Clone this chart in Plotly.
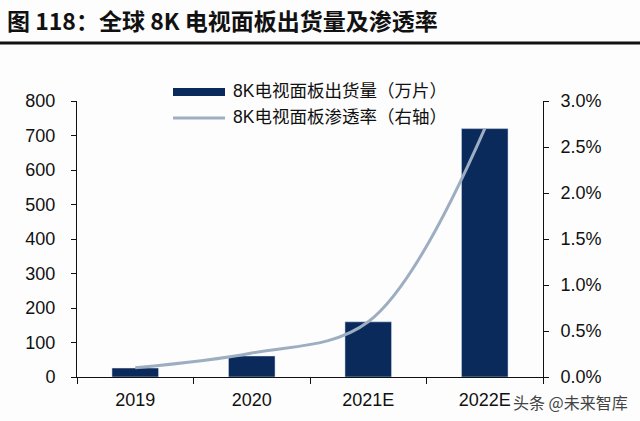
import plotly.graph_objects as go

categories = ["2019", "2020", "2021E", "2022E"]
shipments = [26, 61, 160, 720]          # 万片
penetration = [0.001, 0.0026, 0.006, 0.027]  # 渗透率

W, H = 640, 421
L, R, T, B = 77, 543, 101, 377
pw, ph = R - L, B - T

def px(x):
    return (x - L) / pw

def py(y):
    return (B - y) / ph

bar_color = "#0b2a5c"
line_color = "#9eaec2"
cjk = "Liberation Sans, Noto Sans CJK SC, sans-serif"

fig = go.Figure()
fig.add_trace(go.Bar(x=categories, y=shipments, marker_color=bar_color,
                     width=0.4, name="8K电视面板出货量（万片）", showlegend=False))
fig.add_trace(go.Scatter(x=categories, y=penetration, yaxis="y2", mode="lines",
                         line=dict(color=line_color, width=3, shape="spline", smoothing=1.0),
                         name="8K电视面板渗透率（右轴）", showlegend=False))

fig.update_layout(
    width=W, height=H,
    margin=dict(l=L, r=W - R, t=T, b=H - B),
    paper_bgcolor="#fdfdfd", plot_bgcolor="#fdfdfd",
    font=dict(family=cjk, size=18, color="#111"),
    xaxis=dict(type="category", showline=True, linecolor="#111", linewidth=1,
               ticks="outside", tickson="boundaries", ticklen=6, tickcolor="#111",
               tickfont=dict(size=18), showgrid=False, zeroline=False,
               ticklabelstandoff=6),
    yaxis=dict(range=[0, 800], dtick=100, showline=True, linecolor="#111", linewidth=1,
               ticks="outside", ticklen=5, tickcolor="#111", showgrid=False,
               zeroline=False, tickfont=dict(size=18), ticklabelstandoff=12),
    yaxis2=dict(range=[0, 0.03], dtick=0.005, tickformat=".1%", overlaying="y",
                side="right", showline=True, linecolor="#111", linewidth=1,
                ticks="outside", ticklen=5, tickcolor="#111", showgrid=False,
                zeroline=False, tickfont=dict(size=18), ticklabelstandoff=8),
)

# Title
fig.add_annotation(text="<b>图 118：全球 8K 电视面板出货量及渗透率</b>",
                   xref="paper", yref="paper", x=px(5), y=py(20),
                   xanchor="left", yanchor="middle", showarrow=False,
                   font=dict(size=23, color="#111", family="Noto Sans CJK SC, sans-serif"))
fig.add_shape(type="line", xref="paper", yref="paper",
              x0=px(0), x1=px(640), y0=py(43), y1=py(43),
              line=dict(color="#111", width=3))

# Legend (manual)
fig.add_shape(type="rect", xref="paper", yref="paper",
              x0=px(173), x1=px(225), y0=py(96), y1=py(88),
              fillcolor=bar_color, line=dict(width=0))
fig.add_shape(type="line", xref="paper", yref="paper",
              x0=px(173), x1=px(225), y0=py(118), y1=py(118),
              line=dict(color=line_color, width=3))
fig.add_annotation(text="8K电视面板出货量（万片）", xref="paper", yref="paper",
                   x=px(231), y=py(91), xanchor="left", yanchor="middle",
                   showarrow=False, font=dict(size=17.5, family=cjk))
fig.add_annotation(text="8K电视面板渗透率（右轴）", xref="paper", yref="paper",
                   x=px(231), y=py(117), xanchor="left", yanchor="middle",
                   showarrow=False, font=dict(size=17.5, family=cjk))

# Watermark
fig.add_annotation(text="头条 @未来智库", xref="paper", yref="paper",
                   x=px(630), y=py(402), xanchor="right", yanchor="middle",
                   showarrow=False, font=dict(size=16, color="#444", family="Noto Sans CJK SC, sans-serif"))

fig.write_html("out.html")
